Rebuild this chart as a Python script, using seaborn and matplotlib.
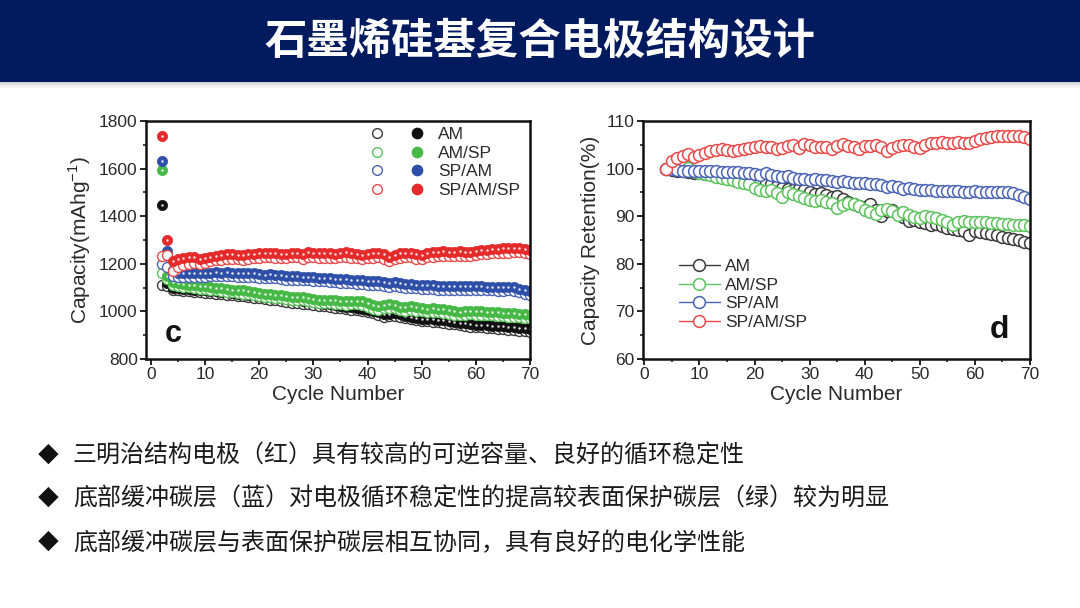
import pandas as pd
import matplotlib
matplotlib.use("Agg")
import matplotlib.pyplot as plt
from matplotlib.lines import Line2D
from matplotlib.patches import Rectangle
from matplotlib.legend_handler import HandlerTuple
import seaborn as sns

# ---- data ----
samples = ["AM", "AM/SP", "SP/AM", "SP/AM/SP"]
colors = ["#111111", "#46B846", "#2E4FA8", "#E42A2A"]
open_colors = ["#3A3A3A", "#5CC25C", "#4A64B4", "#E84A4A"]

cap_cycles = list(range(2, 71))
ret_cycles = list(range(4, 71))

# panel c: filled = discharge, open = charge (mAh/g)
am_fill = [1445, 1120, 1100, 1098, 1096, 1094, 1092, 1090, 1088, 1086,
           1084, 1082, 1080, 1077, 1074, 1072, 1070, 1067, 1064, 1062,
           1060, 1057, 1055, 1052, 1048, 1046, 1044, 1042, 1038, 1035,
           1032, 1030, 1027, 1024, 1020, 1017, 1014, 1010, 1006, 1002,
           996, 988, 990, 992, 988, 982, 976, 972, 970, 968,
           968, 965, 962, 958, 955, 952, 950, 946, 944, 944,
           942, 940, 938, 937, 935, 933, 931, 929, 927]
am_open = [1110, 1105, 1090, 1088, 1086, 1085, 1083, 1081, 1079, 1077,
           1075, 1073, 1071, 1068, 1065, 1063, 1061, 1058, 1055, 1053,
           1050, 1047, 1044, 1041, 1037, 1035, 1033, 1031, 1027, 1024,
           1021, 1019, 1016, 1013, 1010, 1007, 1004, 1000, 996, 992,
           986, 978, 980, 982, 978, 972, 966, 962, 960, 958,
           957, 954, 951, 948, 945, 942, 939, 935, 933, 933,
           931, 929, 927, 925, 923, 921, 919, 917, 915]
amsp_fill = [1595, 1150, 1125, 1118, 1115, 1112, 1110, 1107, 1105, 1102,
             1100, 1097, 1095, 1092, 1090, 1088, 1085, 1082, 1078, 1075,
             1072, 1070, 1068, 1065, 1062, 1062, 1060, 1058, 1052, 1050,
             1050, 1048, 1046, 1045, 1042, 1045, 1044, 1042, 1035, 1025,
             1022, 1028, 1030, 1028, 1020, 1018, 1022, 1018, 1015, 1012,
             1013, 1012, 1010, 1005, 1000, 998, 1000, 1002, 1000, 1000,
             999, 998, 996, 995, 993, 992, 990, 988, 986]
amsp_open = [1160, 1135, 1110, 1106, 1104, 1101, 1098, 1095, 1093, 1090,
             1088, 1085, 1083, 1080, 1077, 1075, 1072, 1069, 1065, 1062,
             1059, 1057, 1055, 1052, 1049, 1048, 1046, 1043, 1038, 1036,
             1036, 1034, 1032, 1030, 1027, 1030, 1029, 1027, 1020, 1010,
             1007, 1013, 1015, 1013, 1005, 1003, 1007, 1003, 1000, 997,
             998, 997, 995, 990, 985, 983, 985, 987, 985, 985,
             984, 983, 981, 980, 978, 977, 975, 973, 971]
spam_fill = [1630, 1255, 1175, 1162, 1160, 1162, 1162, 1160, 1162, 1163,
             1164, 1163, 1164, 1163, 1162, 1162, 1160, 1160, 1158, 1155,
             1158, 1155, 1152, 1150, 1150, 1148, 1146, 1146, 1144, 1142,
             1142, 1140, 1138, 1136, 1136, 1134, 1133, 1131, 1128, 1127,
             1126, 1124, 1120, 1122, 1119, 1116, 1114, 1113, 1111, 1110,
             1109, 1108, 1108, 1107, 1106, 1106, 1105, 1105, 1106, 1105,
             1104, 1104, 1103, 1103, 1104, 1102, 1096, 1090, 1085]
spam_open = [1200, 1185, 1150, 1146, 1145, 1146, 1146, 1145, 1146, 1147,
             1148, 1147, 1148, 1147, 1146, 1146, 1144, 1144, 1142, 1139,
             1142, 1139, 1136, 1134, 1134, 1132, 1130, 1130, 1128, 1126,
             1126, 1124, 1122, 1120, 1120, 1118, 1117, 1115, 1112, 1111,
             1110, 1108, 1103, 1106, 1103, 1100, 1098, 1097, 1095, 1094,
             1093, 1092, 1092, 1091, 1090, 1090, 1089, 1089, 1090, 1089,
             1088, 1088, 1087, 1087, 1088, 1086, 1080, 1074, 1069]
spamsp_fill = [1735, 1300, 1210, 1220, 1225, 1228, 1230, 1222, 1225, 1228,
               1232, 1238, 1240, 1240, 1238, 1236, 1240, 1242, 1244, 1246,
               1245, 1244, 1242, 1243, 1245, 1246, 1240, 1248, 1247, 1244,
               1244, 1244, 1242, 1246, 1248, 1244, 1242, 1238, 1242, 1244,
               1246, 1240, 1228, 1238, 1244, 1246, 1245, 1240, 1238, 1245,
               1248, 1250, 1252, 1250, 1250, 1252, 1250, 1250, 1254, 1258,
               1260, 1262, 1264, 1265, 1265, 1266, 1266, 1264, 1258]
spamsp_open = [1232, 1238, 1170, 1185, 1195, 1200, 1205, 1200, 1205, 1210,
               1214, 1218, 1220, 1222, 1220, 1218, 1222, 1224, 1226, 1228,
               1227, 1226, 1224, 1225, 1227, 1228, 1222, 1230, 1229, 1226,
               1226, 1226, 1224, 1228, 1230, 1226, 1224, 1220, 1224, 1226,
               1228, 1222, 1210, 1220, 1226, 1228, 1227, 1222, 1220, 1227,
               1230, 1232, 1234, 1232, 1232, 1234, 1232, 1232, 1236, 1240,
               1242, 1244, 1246, 1247, 1247, 1248, 1248, 1246, 1240]

# panel d: capacity retention (%)
am_ret = [100.0, 99.8, 99.6, 99.4, 99.2, 99.0, 99.0, 98.9, 98.8, 98.7,
          98.6, 98.4, 98.2, 98.0, 97.8, 97.6, 97.4, 97.2, 97.0, 96.8,
          96.4, 96.0, 95.8, 95.6, 95.8, 95.4, 95.0, 94.6, 94.8, 94.4,
          94.0, 94.2, 93.6, 93.0, 92.6, 92.2, 92.0, 92.5, 91.2, 90.0,
          91.0, 91.2, 90.4, 89.8, 89.0, 89.2, 88.8, 88.5, 88.2, 88.4,
          88.0, 87.5, 87.4, 87.2, 86.8, 86.0, 86.8, 86.6, 86.4, 86.2,
          86.0, 85.6, 85.4, 85.2, 85.0, 84.6, 84.4]
amsp_ret = [100.0, 100.3, 100.6, 101.0, 100.2, 99.4, 99.0, 98.8, 98.6, 98.3,
            98.0, 97.8, 97.5, 97.2, 97.0, 96.8, 96.0, 95.6, 95.2, 95.6,
            94.8, 94.0, 95.0, 94.6, 94.2, 93.8, 93.4, 93.2, 93.4, 93.0,
            92.8, 91.8, 92.4, 92.8, 92.6, 92.2, 91.2, 90.8, 90.4, 91.2,
            91.6, 91.0, 90.2, 90.8, 90.2, 89.8, 89.6, 90.0, 89.8, 89.6,
            89.2, 88.8, 88.2, 88.8, 89.0, 88.8, 88.8, 88.8, 88.7, 88.6,
            88.5, 88.4, 88.3, 88.2, 88.2, 88.1, 88.0]
spam_ret = [100.0, 100.0, 99.8, 99.6, 99.5, 99.6, 99.5, 99.5, 99.4, 99.4,
            99.3, 99.3, 99.2, 99.2, 99.1, 99.0, 98.9, 98.7, 99.0, 98.6,
            98.4, 98.2, 98.4, 98.0, 97.9, 97.8, 97.7, 97.8, 97.6, 97.5,
            97.4, 97.2, 97.3, 97.1, 97.0, 96.9, 96.9, 96.8, 96.8, 96.6,
            96.2, 96.4, 96.2, 95.8, 96.0, 95.8, 95.6, 95.5, 95.4, 95.3,
            95.2, 95.3, 95.2, 95.2, 95.1, 95.1, 95.2, 95.1, 95.0, 95.0,
            95.0, 95.0, 95.0, 94.8, 94.4, 94.0, 93.6]
spamsp_ret = [100.0, 101.5, 102.2, 102.6, 103.0, 102.4, 102.8, 103.2, 103.8, 104.0,
              104.2, 104.0, 103.6, 104.0, 104.2, 104.4, 104.6, 104.8, 104.6, 104.5,
              104.2, 104.4, 104.8, 105.0, 104.4, 105.2, 105.0, 104.6, 104.6, 104.6,
              104.2, 104.8, 105.2, 104.8, 104.6, 104.2, 104.8, 104.8, 105.0, 104.6,
              103.6, 104.4, 104.8, 105.0, 105.0, 104.6, 104.4, 105.0, 105.4, 105.4,
              105.6, 105.4, 105.4, 105.6, 105.4, 105.4, 105.8, 106.2, 106.4, 106.6,
              106.8, 106.8, 106.8, 106.8, 106.8, 106.6, 106.2]

fill_series = [am_fill, amsp_fill, spam_fill, spamsp_fill]
open_series = [am_open, amsp_open, spam_open, spamsp_open]
ret_series = [am_ret, amsp_ret, spam_ret, spamsp_ret]

title = "石墨烯硅基复合电极结构设计"
bullets = [
    "三明治结构电极（红）具有较高的可逆容量、良好的循环稳定性",
    "底部缓冲碳层（蓝）对电极循环稳定性的提高较表面保护碳层（绿）较为明显",
    "底部缓冲碳层与表面保护碳层相互协同，具有良好的电化学性能",
]

# ---- style ----
sns.set_theme(style="ticks")
plt.rcParams["font.family"] = ["Liberation Sans", "Noto Sans CJK SC", "DejaVu Sans"]
plt.rcParams["mathtext.fontset"] = "custom"
plt.rcParams["mathtext.rm"] = "Liberation Sans"
cjk = ["Noto Sans CJK SC", "DejaVu Sans"]

W, H = 1080, 608
fig = plt.figure(figsize=(W / 100, H / 100), dpi=100)
fig.patch.set_facecolor("white")


def fx(px):
    return px / W


def fy(py):
    return 1 - py / H


# header band + soft shadow
for i, a in enumerate([0.35, 0.25, 0.15, 0.08]):
    fig.patches.append(Rectangle((0, fy(83 + i * 1.5)), 1, 1.5 / H, transform=fig.transFigure,
                                 facecolor="#808080", alpha=a, edgecolor="none"))
fig.patches.append(Rectangle((0, fy(82)), 1, 82 / H, transform=fig.transFigure,
                             facecolor="#021A5E", edgecolor="none"))
fig.text(0.5, fy(42), title, ha="center", va="center", color="white",
         fontsize=30.5, fontweight="bold", family=cjk)


def style_axes(ax):
    for sp in ax.spines.values():
        sp.set_linewidth(1.8)
        sp.set_color("#111111")
    ax.tick_params(which="major", direction="out", length=4, width=1.3,
                   labelsize=12.5, colors="#111111", labelcolor="#2a2a2a", pad=2)
    ax.tick_params(which="minor", direction="out", length=2.5, width=1.1, colors="#111111")
    ax.set_xticks(range(0, 71, 10))
    ax.set_xticks(range(5, 71, 10), minor=True)
    ax.set_xlabel("Cycle Number", fontsize=15, color="#2a2a2a", labelpad=2)


# ---- panel c ----
axc = fig.add_axes([fx(146), fy(359), fx(530) - fx(146), fy(121) - fy(359)])
df_c = pd.DataFrame({"cycle": cap_cycles})
for s, f, o in zip(samples, fill_series, open_series):
    df_c[s + "_fill"] = f
    df_c[s + "_open"] = o
for s, c, oc in zip(samples, colors, open_colors):
    sns.lineplot(data=df_c, x="cycle", y=s + "_open", ax=axc, linestyle="", marker="o",
                 markersize=7.2, mfc="white", mec=oc, mew=1.0, estimator=None, errorbar=None)
    sns.lineplot(data=df_c, x="cycle", y=s + "_fill", ax=axc, linestyle="", marker="o",
                 markersize=7.4, mfc=c, mec=c, mew=0.5, estimator=None, errorbar=None)
    sns.lineplot(data=df_c, x="cycle", y=s + "_fill", ax=axc, linestyle="", marker="o",
                 markersize=1.8, mfc="white", mec="white", mew=0, alpha=0.85,
                 estimator=None, errorbar=None)
axc.set_xlim(-0.9, 70)
axc.set_ylim(800, 1800)
axc.set_yticks(range(800, 1801, 200))
axc.set_yticks(range(900, 1800, 200), minor=True)
style_axes(axc)
axc.set_ylabel("Capacity(mAhg$^{\\mathregular{-1}}$)", fontsize=15, color="#2a2a2a", labelpad=4)
axc.text(0.05, 0.105, "c", transform=axc.transAxes, fontsize=22, fontweight="bold",
         ha="left", va="center", color="#111111")

handles_c = []
for c, oc in zip(colors, open_colors):
    h_open = Line2D([], [], linestyle="", marker="o", markersize=7.0, mfc="white", mec=oc, mew=1.0)
    h_fill = Line2D([], [], linestyle="", marker="o", markersize=7.4, mfc=c, mec=c)
    handles_c.append((h_open, h_fill))
axc.legend(handles_c, samples, handler_map={tuple: HandlerTuple(ndivide=None, pad=1.15)},
           loc="upper left", bbox_to_anchor=(fx(367), fy(127)), bbox_transform=fig.transFigure,
           frameon=False, fontsize=12.5, handlelength=3.45, handletextpad=0.63,
           labelspacing=0.2, borderpad=0, borderaxespad=0, numpoints=1,
           labelcolor="#2a2a2a")

# ---- panel d ----
axd = fig.add_axes([fx(643), fy(359), fx(1030) - fx(643), fy(121) - fy(359)])
df_d = pd.DataFrame({"cycle": ret_cycles})
for s, r in zip(samples, ret_series):
    df_d[s] = r
for s, oc in zip(samples, open_colors):
    sns.lineplot(data=df_d, x="cycle", y=s, ax=axd, color=oc, linewidth=1.0, marker="o",
                 markersize=8.5, mfc="white", mec=oc, mew=1.1, estimator=None,
                 errorbar=None, label=s, legend=False)
axd.set_xlim(-0.25, 70)
axd.set_ylim(60, 110)
axd.set_yticks(range(60, 111, 10))
axd.set_yticks(range(65, 110, 10), minor=True)
style_axes(axd)
axd.set_ylabel("Capacity Retention(%)", fontsize=15, color="#2a2a2a", labelpad=4)
axd.text(0.92, 0.12, "d", transform=axd.transAxes, fontsize=23, fontweight="bold",
         ha="center", va="center", color="#111111")
handles_d = [Line2D([], [], color=oc, linewidth=1.0, marker="o", markersize=8.5,
                    mfc="white", mec=oc, mew=1.1) for oc in open_colors]
axd.legend(handles_d, samples, loc="upper left", bbox_to_anchor=(fx(679), fy(259)),
           bbox_transform=fig.transFigure, frameon=False, fontsize=12.5,
           handlelength=2.36, handletextpad=0.3, labelspacing=0.2, borderpad=0,
           borderaxespad=0, numpoints=1, labelcolor="#2a2a2a")

# ---- bullet text ----
for yb, txt in zip([456, 499, 543], bullets):
    fig.text(fx(48), fy(yb), "◆", ha="center", va="center", fontsize=15, color="#111111",
             family=cjk)
    fig.text(fx(73), fy(yb), txt, ha="left", va="center", fontsize=17.3, color="#1a1a1a",
             family=cjk)

fig.savefig("out.png", dpi=100)
